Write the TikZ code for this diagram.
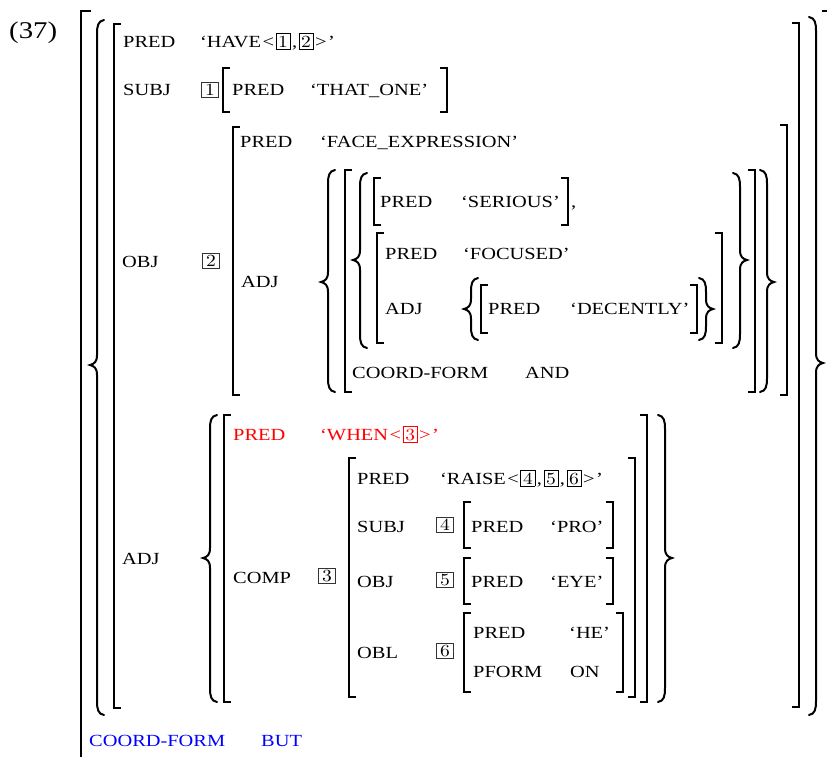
\documentclass[tikz,border=0pt]{standalone}
\usepackage{fontspec}
\setmainfont[FakeStretch=1.2]{Liberation Serif}
\newfontfamily\cmfont[FakeStretch=1.15]{lmroman10-regular.otf}

% boxed index inside a value
\newcommand{\bx}[1]{\hspace{1.5pt}{\setlength{\fboxsep}{2pt}\setlength{\fboxrule}{0.6pt}\fbox{\cmfont\fontsize{17}{18}\selectfont #1}}\hspace{1.5pt}}
\newcommand{\open}{\hspace{1.5pt}<}
\newcommand{\shut}{>\hspace{1.5pt}}
% square brackets: x, top, bottom
\newcommand{\brackl}[3]{\draw[brk] ({#1+7},#2) -- (#1,#2) -- (#1,#3) -- ({#1+7},#3);}
\newcommand{\brackr}[3]{\draw[brk] ({#1-7},#2) -- (#1,#2) -- (#1,#3) -- ({#1-7},#3);}
% curly braces: x, top, bottom, tip
\newcommand{\bracel}[4]{\draw[brc] ({#1+7},#2) .. controls ({#1+1},{#2+1}) and (#1,{#2+6}) .. (#1,{#2+14})
    -- (#1,{#4-10}) .. controls (#1,{#4-3}) and ({#1-3},{#4-1}) .. ({#1-7},#4)
    .. controls ({#1-3},{#4+1}) and (#1,{#4+3}) .. (#1,{#4+10})
    -- (#1,{#3-14}) .. controls (#1,{#3-6}) and ({#1+1},{#3-1}) .. ({#1+7},#3);}
\newcommand{\bracer}[4]{\draw[brc] ({#1-7},#2) .. controls ({#1-1},{#2+1}) and (#1,{#2+6}) .. (#1,{#2+14})
    -- (#1,{#4-10}) .. controls (#1,{#4-3}) and ({#1+3},{#4-1}) .. ({#1+7},#4)
    .. controls ({#1+3},{#4+1}) and (#1,{#4+3}) .. (#1,{#4+10})
    -- (#1,{#3-14}) .. controls (#1,{#3-6}) and ({#1-1},{#3-1}) .. ({#1-7},#3);}

\begin{document}
\begin{tikzpicture}[x=1pt, y=-1pt,
    every node/.style={font=\fontsize{17}{19}\selectfont},
    txt/.style={anchor=base west, inner sep=0pt},
    tagbox/.style={draw=black!80, line width=0.6pt, inner sep=0pt, minimum width=17pt,
      minimum height=15pt, font=\cmfont\fontsize{17}{17}\selectfont},
    brk/.style={line width=1.3pt},
    brc/.style={line width=2pt, line cap=round}]
  \useasboundingbox (0,0) rectangle (827,756);
  \clip (0,0) rectangle (827,756);

  % example number
  \node[txt, font=\fontsize{24}{26}\selectfont] (exnum) at (9,38) {(37)};

  % outer structure and the set
  \draw[brk] (91,11) -- (81,11) -- (81,800);
  \draw[brk] (822,11) -- (832,11) -- (832,800);
  \bracel{97}{20}{715}{365}
  \bracer{816}{17}{715}{363}
  \brackl{114}{24}{708}
  \brackr{799}{23}{707}

  \node[txt] (pred) at (123,47) {PRED};
  \node[txt] (have) at (200,47) {`HAVE\open\bx{1},\bx{2}\shut'};

  \node[txt] (subj) at (123,95) {SUBJ};
  \node[tagbox] (tag1) at (210,90) {1};
  \brackl{223}{68}{112}
  \node[txt] (subjpred) at (232,95) {PRED};
  \node[txt] (thatone) at (310,95) {`THAT\_ONE'};
  \brackr{447}{68}{112}

  % OBJ
  \node[txt] (obj) at (122,267) {OBJ};
  \node[tagbox] (tag2) at (211,261) {2};
  \brackl{233}{127}{395}
  \brackr{787}{125}{395}
  \node[txt] (objpred) at (240,147) {PRED};
  \node[txt] (face) at (320,147) {`FACE\_EXPRESSION'};
  \node[txt] (objadj) at (241,287) {ADJ};
  \bracel{328}{170}{392}{282}
  \bracer{767}{170}{392}{282}
  \brackl{345}{170}{392}
  \brackr{755}{170}{392}
  \bracel{360}{173}{348}{260}
  \bracer{740}{173}{348}{260}
  \brackl{374}{178}{225}
  \node[txt] (serpred) at (380,207) {PRED};
  \node[txt] (serious) at (461,207) {`SERIOUS'};
  \brackr{568}{178}{225}
  \node[txt] (comma) at (571,207) {,};
  \brackl{377}{233}{343}
  \brackr{722}{233}{343}
  \node[txt] (focpred) at (385,259) {PRED};
  \node[txt] (focused) at (463,259) {`FOCUSED'};
  \node[txt] (focadj) at (385,314) {ADJ};
  \bracel{471}{278}{340}{309}
  \bracer{706}{278}{340}{309}
  \brackl{481}{285}{333}
  \brackr{697}{285}{333}
  \node[txt] (decpred) at (488,314) {PRED};
  \node[txt] (decently) at (570,314) {`DECENTLY'};
  \node[txt] (cform) at (352,378) {COORD-FORM};
  \node[txt] (and) at (525,378) {AND};

  % ADJ
  \node[txt] (adj) at (122,564) {ADJ};
  \bracel{210}{415}{702}{558}
  \bracer{665}{415}{702}{558}
  \brackl{224}{415}{702}
  \brackr{647}{415}{702}
  \node[txt, red] (whenpred) at (233,440) {PRED};
  \node[txt, red] (when) at (320,440) {`WHEN\open\bx{3}\shut'};
  \node[txt] (comp) at (233,583) {COMP};
  \node[tagbox] (tag3) at (327,576) {3};
  \brackl{349}{458}{697}
  \brackr{635}{458}{697}
  \node[txt] (raisepred) at (357,484) {PRED};
  \node[txt] (raise) at (440,484) {`RAISE\open\bx{4},\bx{5},\bx{6}\shut'};
  \node[txt] (csubj) at (357,532) {SUBJ};
  \node[tagbox] (tag4) at (445,525) {4};
  \brackl{464}{502}{548}
  \brackr{613}{502}{548}
  \node[txt] (propred) at (471,532) {PRED};
  \node[txt] (pro) at (550,532) {`PRO'};
  \node[txt] (cobj) at (357,587) {OBJ};
  \node[tagbox] (tag5) at (445,580) {5};
  \brackl{464}{558}{604}
  \brackr{613}{558}{604}
  \node[txt] (eyepred) at (471,587) {PRED};
  \node[txt] (eye) at (550,587) {`EYE'};
  \node[txt] (cobl) at (357,658) {OBL};
  \node[tagbox] (tag6) at (445,651) {6};
  \brackl{464}{613}{692}
  \brackr{623}{613}{692}
  \node[txt] (hepred) at (473,638) {PRED};
  \node[txt] (he) at (569,638) {`HE'};
  \node[txt] (pform) at (473,677) {PFORM};
  \node[txt] (on) at (570,677) {ON};

  \node[txt, blue] (bform) at (89,746) {COORD-FORM};
  \node[txt, blue] (but) at (261,746) {BUT};
\end{tikzpicture}
\end{document}
